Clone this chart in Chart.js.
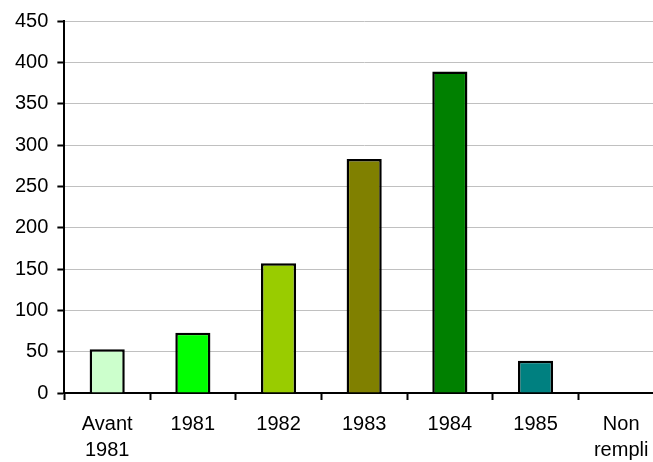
<!DOCTYPE html>
<html lang="fr">
<head>
    <meta charset="UTF-8">
    <title>Répartition par année</title>
    <script src="https://cdn.jsdelivr.net/npm/chart.js"></script>
    <style>
        html, body { margin: 0; padding: 0; background: #fff; overflow: hidden; }
        .chart-container { position: relative; width: 666px; height: 474px; }
    </style>
</head>
<body>
    <div class="chart-container">
        <canvas id="anneesChart"></canvas>
    </div>

    <script>
    // Données
    const categories = [['Avant', '1981'], '1981', '1982', '1983', '1984', '1985', ['Non', 'rempli']];
    const valeurs = [53, 73, 157, 283, 389, 39, 0];
    const couleurs = ['#CCFFCC', '#00FF00', '#99CC00', '#808000', '#008000', '#008080', '#C0C0C0'];
    const yMax = 450;
    const yPas = 50;

    Chart.defaults.font.family = '"Liberation Sans", Arial, sans-serif';
    Chart.defaults.font.size = 20;
    Chart.defaults.color = '#000';

    new Chart(document.getElementById('anneesChart'), {
        type: 'bar',
        data: {
            labels: categories,
            datasets: [{
                data: valeurs,
                backgroundColor: couleurs,
                borderColor: '#000',
                borderWidth: 2.5,
                borderSkipped: 'start',
                barPercentage: 0.41,
                categoryPercentage: 1
            }]
        },
        options: {
            responsive: true,
            maintainAspectRatio: false,
            animation: false,
            layout: { padding: { left: 6, top: 16, right: 2, bottom: 0 } },
            plugins: {
                legend: { display: false },
                tooltip: { enabled: false }
            },
            scales: {
                x: {
                    grid: {
                        offset: true,
                        drawOnChartArea: false,
                        drawTicks: true,
                        tickLength: 7,
                        tickWidth: 2,
                        tickColor: '#000'
                    },
                    border: { color: '#000', width: 2 },
                    ticks: { padding: 11, maxRotation: 0, font: { lineHeight: 1.3 } }
                },
                y: {
                    min: 0,
                    max: yMax,
                    grid: {
                        color: '#C0C0C0',
                        lineWidth: 1,
                        tickLength: 7,
                        tickWidth: 2,
                        tickColor: '#000'
                    },
                    border: { color: '#000', width: 2 },
                    ticks: { stepSize: yPas, padding: 9 }
                }
            }
        }
    });
    </script>
</body>
</html>
